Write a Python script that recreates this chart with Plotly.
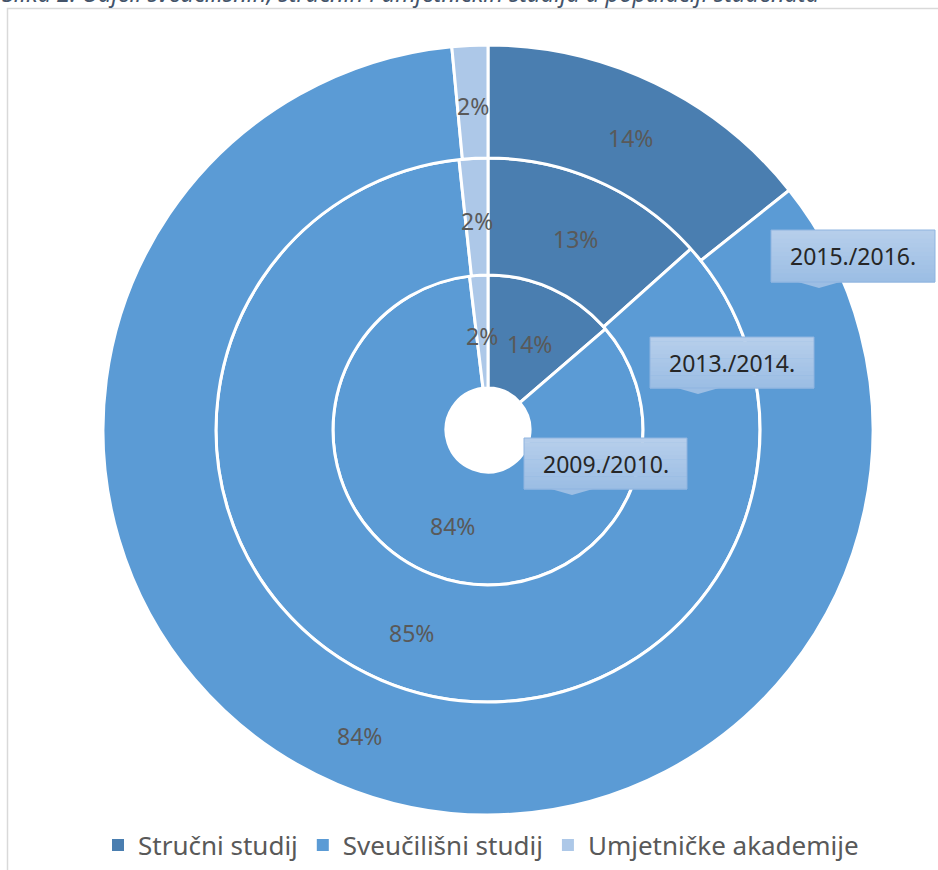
import math
import plotly.graph_objects as go

W, H = 938, 870

categories = ["Stručni studij", "Sveučilišni studij", "Umjetničke akademije"]
colors = ["#4A7EB0", "#5B9BD5", "#ADC8E8"]

years = ["2009./2010.", "2013./2014.", "2015./2016."]
values_2009 = [13.7, 84.4, 1.9]
values_2013 = [13.4, 84.9, 1.7]
values_2015 = [14.3, 84.2, 1.5]
series = [values_2009, values_2013, values_2015]

title_text = "Slika 2. Udjeli sveučilišnih, stručnih i umjetničkih studija u populaciji studenata"

FONT = "Noto Sans"

# geometry (pixels)
cx, cy = 488, 430
radii = [155, 272, 385]
hole_r = 42


def px_x(x):
    return x / W


def px_y(y):
    return 1 - y / H


fig = go.Figure()

# legend carrier: a thin ring fully hidden under the outer ring, drawn without
# a white outline so that the legend squares keep their full size
R = radii[2]
fig.add_trace(go.Pie(
    name="legend",
    labels=categories,
    values=values_2015,
    sort=False,
    direction="clockwise",
    hole=0.98,
    domain=dict(x=[px_x(cx - R), px_x(cx + R)], y=[px_y(cy + R), px_y(cy - R)]),
    marker=dict(colors=colors, line=dict(width=0)),
    textinfo="none",
    hoverinfo="skip",
    showlegend=True,
))

inner_edges = [hole_r, radii[0], radii[1]]
annotations = []
for i, (name, vals) in enumerate(zip(years, series)):
    r = radii[i]
    fig.add_trace(go.Pie(
        name=name,
        labels=categories,
        values=vals,
        sort=False,
        direction="clockwise",
        rotation=0,
        hole=inner_edges[i] / r,
        domain=dict(x=[px_x(cx - r), px_x(cx + r)], y=[px_y(cy + r), px_y(cy - r)]),
        marker=dict(colors=colors, line=dict(color="white", width=3)),
        textinfo="none",
        hoverinfo="label+percent+name",
        showlegend=False,
    ))
    # data labels at the middle of each ring segment (Excel style)
    total = sum(vals)
    rm = (inner_edges[i] + r) / 2
    acc = 0.0
    for v in vals:
        theta = 2 * math.pi * (acc + v / 2) / total
        acc += v
        annotations.append(dict(
            text="%d%%" % round(100 * v / total), xref="paper", yref="paper",
            x=px_x(cx + rm * math.sin(theta)), y=px_y(cy - rm * math.cos(theta)),
            xanchor="center", yanchor="middle", showarrow=False, yshift=-4,
            font=dict(family=FONT, size=23, color="#595959")))

shapes = []
# outer frame
shapes.append(dict(type="rect", xref="paper", yref="paper",
                   x0=px_x(7.5), x1=px_x(960), y0=px_y(890), y1=px_y(8.5),
                   line=dict(color="#D9D9D9", width=1.5), fillcolor="rgba(0,0,0,0)",
                   layer="below"))

# callout boxes (label, left, top, right, bottom, pointer tip x)
boxes = [
    (years[2], 771, 230, 935, 282, 819),
    (years[1], 650, 337, 814, 388, 698),
    (years[0], 524, 438, 687, 489, 572),
]
top_rgb = (182, 206, 235)
bot_rgb = (156, 190, 228)
steps = 12
for label, l, t, r, b, tip in boxes:
    for k in range(steps):
        f = k / (steps - 1)
        c = tuple(round(top_rgb[j] + (bot_rgb[j] - top_rgb[j]) * f) for j in range(3))
        y0 = t + (b - t) * k / steps
        y1 = t + (b - t) * (k + 1) / steps
        shapes.append(dict(type="rect", xref="paper", yref="paper",
                           x0=px_x(l), x1=px_x(r), y0=px_y(y1 + 0.6), y1=px_y(y0),
                           line=dict(width=0), fillcolor="rgb(%d,%d,%d)" % c, layer="above"))
    path = "M %f %f L %f %f L %f %f Z" % (px_x(tip - 21), px_y(b), px_x(tip), px_y(b + 6),
                                        px_x(tip + 21), px_y(b))
    shapes.append(dict(type="path", xref="paper", yref="paper", path=path,
                       line=dict(width=0), fillcolor="rgb(%d,%d,%d)" % bot_rgb, layer="above"))
    shapes.append(dict(type="rect", xref="paper", yref="paper",
                       x0=px_x(l), x1=px_x(r), y0=px_y(b), y1=px_y(t),
                       line=dict(color="#8FB4E0", width=1), fillcolor="rgba(0,0,0,0)",
                       layer="above"))
    annotations.append(dict(text=label, xref="paper", yref="paper",
                            x=px_x((l + r) / 2), y=px_y((t + b) / 2),
                            xanchor="center", yanchor="middle", showarrow=False,
                            font=dict(family=FONT, size=23, color="#262626")))

annotations.append(dict(text="<i>" + title_text + "</i>", xref="paper", yref="paper",
                        x=0, y=px_y(11), xanchor="left", yanchor="bottom", showarrow=False,
                        font=dict(family=FONT, size=23.5, color="#44546A")))

fig.update_layout(
    width=W, height=H,
    margin=dict(l=0, r=0, t=0, b=0),
    paper_bgcolor="white",
    plot_bgcolor="white",
    shapes=shapes,
    annotations=annotations,
    legend=dict(orientation="h", x=0.5 + 12 / W, xanchor="center", y=px_y(845), yanchor="middle",
                font=dict(family=FONT, size=26, color="#595959"), traceorder="normal"),
)

fig.write_html("out.html", config={"displayModeBar": False},
               post_script="document.body.style.margin='0px';document.body.style.overflow='hidden';")
